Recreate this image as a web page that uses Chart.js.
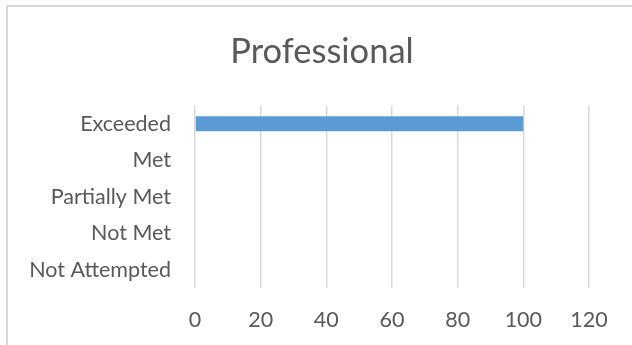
<!DOCTYPE html>
<html>
<head>
<meta charset="utf-8">
<script src="https://cdn.jsdelivr.net/npm/chart.js@4"></script>
<style>
    html, body { margin: 0; padding: 0; background: #ffffff; overflow: hidden; }
    #frame {
        position: absolute; left: 6px; top: 5px; width: 700px; height: 400px;
        border-top: 2px solid #d9d9d9; border-left: 2px solid #d9d9d9;
    }
    #wrap { position: absolute; left: 0; top: 0; width: 632px; height: 345px; }
</style>
</head>
<body>
<div id="frame"></div>
<div id="wrap"><canvas id="profChart"></canvas></div>
<script>
// Chart data
const categories = ['Exceeded', 'Met', 'Partially Met', 'Not Met', 'Not Attempted'];
const values = [100, 0, 0, 0, 0];
const xTicks = [0, 20, 40, 60, 80, 100, 120];
const chartTitle = 'Professional';

const textColor = '#595959';
const fontFamily = 'Lato, "Open Sans", sans-serif';

// Center the title over the whole frame, not only the plot side
const titleCenter = {
    id: 'titleCenter',
    afterLayout(chart) {
        if (chart.titleBlock) {
            chart.titleBlock.left = 12;
            chart.titleBlock.right = 632;
        }
    }
};

const ctx = document.getElementById('profChart');

new Chart(ctx, {
    type: 'bar',
    data: {
        labels: categories,
        datasets: [{
            label: chartTitle,
            data: values,
            backgroundColor: '#5b9bd5',
            borderWidth: 0,
            barPercentage: 0.41,
            categoryPercentage: 1
        }]
    },
    options: {
        indexAxis: 'y',
        responsive: true,
        maintainAspectRatio: false,
        animation: false,
        layout: {
            padding: { left: 0, right: 43, top: 0, bottom: 0 }
        },
        plugins: {
            legend: { display: false },
            tooltip: { enabled: false },
            title: {
                display: true,
                text: chartTitle,
                color: textColor,
                font: { family: fontFamily, size: 34.5, weight: 'normal', lineHeight: 1.2 },
                padding: { top: 31, bottom: 33 }
            }
        },
        scales: {
            x: {
                min: xTicks[0],
                max: xTicks[xTicks.length - 1],
                afterBuildTicks: function(scale) {
                    scale.ticks = xTicks.map(v => ({ value: v }));
                },
                afterFit: function(scale) {
                    scale.height = 57;
                },
                border: { display: false },
                grid: {
                    color: '#d9d9d9',
                    lineWidth: 1.5,
                    drawTicks: false
                },
                ticks: {
                    color: textColor,
                    padding: 19,
                    font: { family: fontFamily, size: 21.5 }
                }
            },
            y: {
                afterFit: function(scale) {
                    scale.width = 195;
                },
                border: { display: false },
                grid: { display: false, drawTicks: false },
                ticks: {
                    color: textColor,
                    padding: 24,
                    font: { family: fontFamily, size: 21.5 }
                }
            }
        }
    },
    plugins: [titleCenter]
});
</script>
</body>
</html>
